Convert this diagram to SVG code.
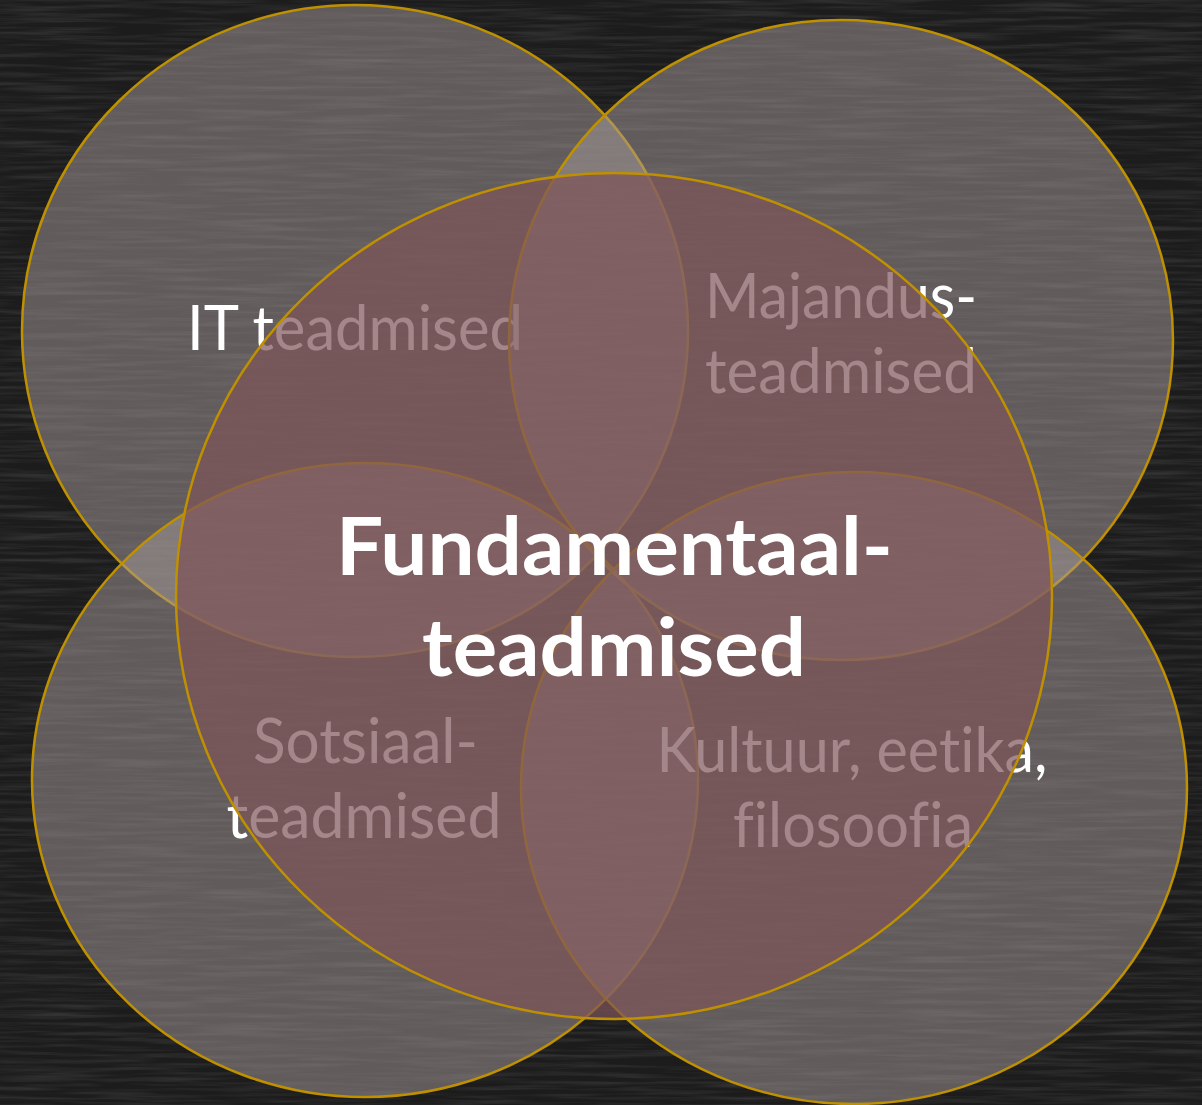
<svg xmlns="http://www.w3.org/2000/svg" width="1202" height="1105" viewBox="0 0 1202 1105">
  <defs>
    <filter id="chalk" x="0" y="0" width="1202" height="1105" filterUnits="userSpaceOnUse">
      <feTurbulence type="fractalNoise" baseFrequency="0.01 0.22" numOctaves="3" seed="7"/>
      <feColorMatrix type="matrix" values="0 0 0 0 1  0 0 0 0 1  0 0 0 0 1  0.9 0 0 0 -0.36"/>
    </filter>
    <style>
      .outer { fill: rgb(166,154,154); fill-opacity: 0.5; stroke: #BF9000; stroke-width: 2.5; }
      .center { fill: rgb(126,84,88); fill-opacity: 0.7; stroke: #BF9000; stroke-width: 2.5; }
      .lbl { font-family: Lato, "Open Sans", "Liberation Sans", sans-serif; font-size: 61px; fill: #FFFFFF; text-anchor: middle; font-variant-ligatures: none; }
      .main { font-family: Lato, "Open Sans", "Liberation Sans", sans-serif; font-size: 81px; font-weight: bold; fill: #FFFFFF; text-anchor: middle; font-variant-ligatures: none; }
    </style>
  </defs>
  <rect x="0" y="0" width="1202" height="1105" fill="#1c1c1c"/>
  <rect x="0" y="0" width="1202" height="1105" filter="url(#chalk)" opacity="0.25"/>

  <g id="node-it">
    <ellipse class="outer" cx="355" cy="331" rx="333" ry="326"/>
    <text class="lbl" x="355" y="350" textLength="336" lengthAdjust="spacingAndGlyphs">IT teadmised</text>
  </g>
  <g id="node-majandus">
    <ellipse class="outer" cx="841" cy="340" rx="332" ry="320"/>
    <text class="lbl" x="841" y="318" textLength="272" lengthAdjust="spacingAndGlyphs">Majandus-</text>
    <text class="lbl" x="841" y="393" textLength="272" lengthAdjust="spacingAndGlyphs">teadmised</text>
  </g>
  <g id="node-sotsiaal">
    <ellipse class="outer" cx="365" cy="780" rx="333" ry="317"/>
    <text class="lbl" x="365.5" y="763" textLength="225" lengthAdjust="spacingAndGlyphs">Sotsiaal-</text>
    <text class="lbl" x="364" y="838" textLength="275" lengthAdjust="spacingAndGlyphs">teadmised</text>
  </g>
  <g id="node-kultuur">
    <ellipse class="outer" cx="854" cy="788" rx="333" ry="316"/>
    <text class="lbl" x="852" y="772" textLength="391" lengthAdjust="spacingAndGlyphs">Kultuur, eetika,</text>
    <text class="lbl" x="853" y="847" textLength="240" lengthAdjust="spacingAndGlyphs">filosoofia</text>
  </g>
  <g id="node-fundamentaal">
    <ellipse class="center" cx="614" cy="596" rx="438" ry="423"/>
    <text class="main" x="614.5" y="575" textLength="557" lengthAdjust="spacingAndGlyphs">Fundamentaal-</text>
    <text class="main" x="614" y="676" textLength="384" lengthAdjust="spacingAndGlyphs">teadmised</text>
  </g>
  <g id="connectors"></g>
</svg>
